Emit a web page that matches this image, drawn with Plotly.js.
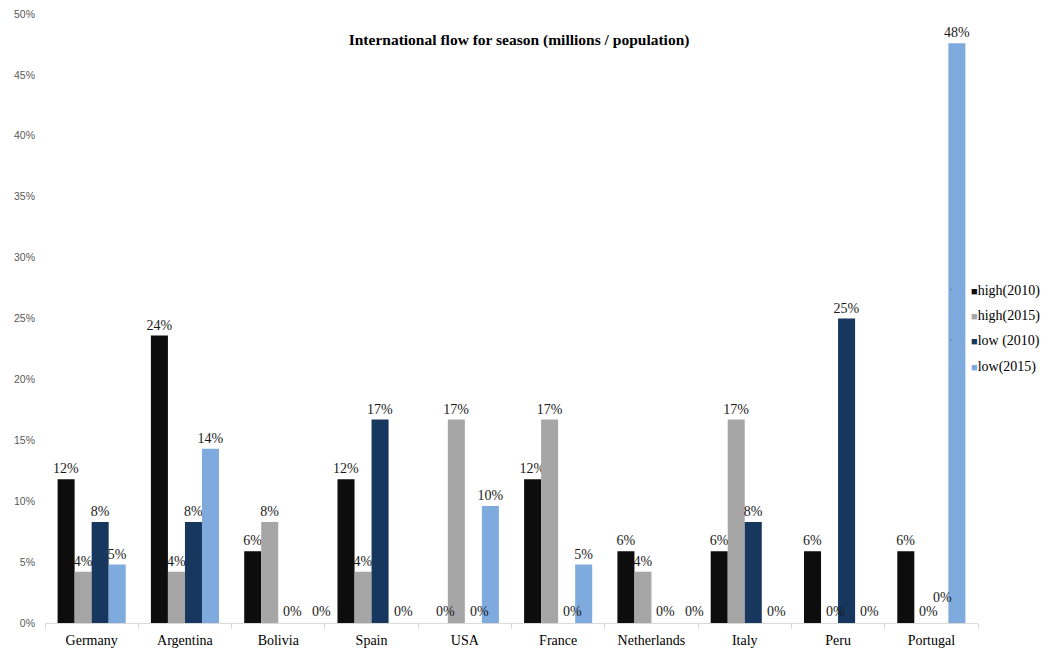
<!DOCTYPE html>
<html>
<head>
<meta charset="utf-8">
<script src="https://cdn.plot.ly/plotly-3.0.1.min.js"></script>
<style>html,body{margin:0;padding:0;background:#fff;}#chart{width:1054px;height:651px;}</style>
</head>
<body>
<div id="chart"></div>
<script>
const countries = ["Germany","Argentina","Bolivia","Spain","USA","France","Netherlands","Italy","Peru","Portugal"];
const high2010 = [0.118,0.236,0.059,0.118,0,0.118,0.059,0.059,0.059,0.059];
const high2015 = [0.042,0.042,0.083,0.042,0.167,0.167,0.042,0.167,0,0];
const low2010  = [0.083,0.083,0,0.167,0,0,0,0.083,0.25,0];
const low2015  = [0.048,0.143,0,0,0.096,0.048,0,0,0,0.476];
const seriesNames = ["high(2010)","high(2015)","low (2010)","low(2015)"];
const seriesColors = ["#0d0d0d","#a6a6a6","#17375e","#7faade"];
const seriesData = [high2010, high2015, low2010, low2015];

const serif = 'Liberation Serif, Times New Roman, serif';
const W = 1054, H = 651;
const margin = {l: 45, r: 76, t: 14, b: 28, autoexpand: false};
const bargap = 0.27;
const pct = v => Math.round(v * 100) + '%';

const traces = seriesData.map((vals, i) => ({
  type: 'bar',
  name: seriesNames[i],
  showlegend: false,
  x: countries,
  y: vals,
  marker: {color: seriesColors[i]},
  text: vals.map(v => v > 0 ? pct(v) : ''),
  texttemplate: '%{text}',
  textposition: 'outside',
  textangle: 0,
  constraintext: 'none',
  cliponaxis: false,
  textfont: {family: serif, size: 14, color: '#1a1a1a'},
  hoverinfo: 'x+y'
}));

// legend entries: small coloured square right before the series name (as in the original)
seriesNames.forEach((n, i) => {
  traces.push({
    type: 'scatter', mode: 'markers',
    x: [null], y: [null],
    name: '<span style="color:' + seriesColors[i] + ';font-size:11px">■</span>' + n,
    legendgroup: 'g' + i,
    marker: {size: 1, opacity: 0, color: seriesColors[i]},
    hoverinfo: 'skip',
    showlegend: true
  });
});

// zero-value labels placed like the original (nudged right, spread when adjacent)
const catW = (W - margin.l - margin.r) / countries.length;
const barW = catW * (1 - bargap) / seriesData.length;
const annotations = [];
countries.forEach((c, ci) => {
  let prevZero = false;
  seriesData.forEach((vals, si) => {
    const v = vals[ci];
    if (v === 0) {
      let dx = 6, dy = 2;
      if (prevZero) {
        const next = seriesData[si + 1];
        if (next && next[ci] > 0) { dx = 3; dy = 16; } else { dx = 18; }
      }
      annotations.push({
        x: c, y: 0, xref: 'x', yref: 'y',
        text: pct(v), showarrow: false,
        xanchor: 'center', yanchor: 'bottom',
        xshift: (si - (seriesData.length - 1) / 2) * barW + dx,
        yshift: dy,
        font: {family: serif, size: 14, color: '#1a1a1a'}
      });
      prevZero = true;
    } else {
      prevZero = false;
    }
  });
});

const layout = {
  width: W, height: H,
  paper_bgcolor: '#fff', plot_bgcolor: '#fff',
  margin: margin,
  barmode: 'group',
  bargap: bargap,
  bargroupgap: 0,
  title: {
    text: '<b>International flow for season (millions / population)</b>',
    font: {family: serif, size: 15.5, color: '#000'},
    x: 0.4925, xanchor: 'center', xref: 'container',
    y: 0.939, yanchor: 'middle', yref: 'container'
  },
  xaxis: {
    type: 'category',
    categoryorder: 'array', categoryarray: countries,
    showline: true, linecolor: '#d9d9d9', linewidth: 1,
    ticks: 'outside', tickson: 'boundaries', ticklen: 5, tickcolor: '#d9d9d9',
    tickfont: {family: serif, size: 14, color: '#000'},
    ticklabelstandoff: 4,
    showgrid: false, zeroline: false
  },
  yaxis: {
    range: [0, 0.5],
    dtick: 0.05,
    tickformat: '.0%',
    showgrid: false, zeroline: false, showline: false,
    tickfont: {family: 'Liberation Sans, Arial, sans-serif', size: 10.5, color: '#595959'},
    ticklabelstandoff: 9
  },
  annotations: annotations,
  showlegend: true,
  legend: {
    xref: 'container', yref: 'container',
    x: 0.8833, xanchor: 'left', y: 0.497, yanchor: 'middle',
    font: {family: serif, size: 14, color: '#000'},
    itemwidth: 30, tracegroupgap: 4, traceorder: 'grouped',
    bgcolor: 'rgba(0,0,0,0)'
  }
};

Plotly.newPlot('chart', traces, layout, {displayModeBar: false, staticPlot: true});
</script>
</body>
</html>
